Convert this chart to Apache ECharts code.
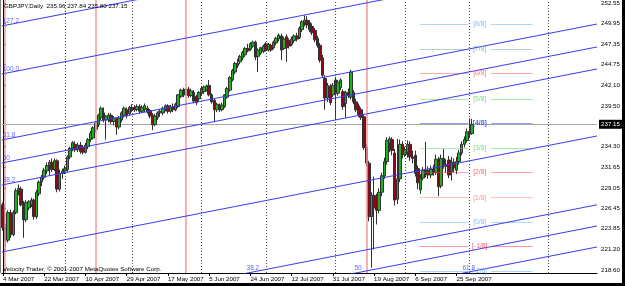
<!DOCTYPE html>
<html><head><meta charset="utf-8">
<script src="https://cdn.jsdelivr.net/npm/echarts@6/dist/echarts.min.js"></script>
<style>html,body{margin:0;padding:0;background:#fff;overflow:hidden}#c{width:625px;height:286px}</style>
</head><body><div id="c"></div>
<script>
const headerText = 'GBPJPY,Daily  235.96 237.84 235.80 237.15';
const copyrightText = 'Velocity Trader, \u00a9 2001-2007 MetaQuotes Software Corp.';
const slotCount = 231;
const dateTickIndex = [0,16,32,48,64,80,96,112,128,144,160,176];
const dateTickLabels = ['4 Mar 2007','22 Mar 2007','10 Apr 2007','29 Apr 2007','17 May 2007','5 Jun 2007','24 Jun 2007','12 Jul 2007','31 Jul 2007','19 Aug 2007','6 Sep 2007','25 Sep 2007'];
const priceTicks = [252.55,249.95,247.35,244.75,242.10,239.50,234.30,231.65,229.05,226.45,223.85,221.20,218.60];
const priceMin = 218.22, priceMax = 252.97;
const currentPrice = 237.15;
// daily bars: [open, high, low, close]
const ohlc = [
[226.9,227.2,223.6,224.0],[224.0,224.5,221.5,222.4],[222.4,226.2,222.1,225.9],[225.9,226.3,222.7,223.1],[223.1,226.2,222.9,225.9],
[225.9,229.0,225.7,228.7],[228.7,229.5,228.1,229.0],[228.9,229.2,226.7,226.9],[227.1,227.4,222.7,225.0],[225.0,227.5,224.7,227.2],
[226.5,227.5,226.2,227.3],[226.9,227.8,226.6,227.5],[227.5,227.7,225.0,225.4],[225.4,228.8,225.1,228.5],[228.3,230.0,228.0,229.8],
[229.8,230.7,229.3,230.4],[230.4,231.6,230.1,231.3],[231.2,232.3,230.8,231.9],[231.9,232.6,230.6,232.3],[232.3,232.8,231.1,231.4],
[231.4,232.8,231.2,232.5],[232.5,232.7,228.5,228.9],[228.9,231.4,228.6,230.9],[230.9,231.5,230.2,231.2],[231.2,231.9,230.8,231.5],
[231.4,233.2,231.1,233.0],[233.0,234.3,232.7,234.1],[234.1,235.0,233.7,234.8],[234.6,235.0,233.6,233.9],[233.9,234.8,233.6,234.5],
[234.5,234.9,233.4,233.7],[234.2,234.5,233.3,233.6],[233.6,234.8,233.4,234.5],[234.3,235.4,234.0,235.2],[235.2,236.3,234.9,236.0],
[235.4,236.9,235.2,236.7],[236.5,237.5,236.1,237.3],[237.1,238.5,236.8,238.3],[238.0,239.4,237.7,239.2],[238.6,239.3,237.4,237.7],
[237.7,238.3,235.2,238.2],[237.7,238.6,237.4,238.3],[238.3,238.6,237.2,237.5],[237.5,238.2,237.0,237.9],[237.7,238.0,235.8,236.8],
[236.8,238.2,236.5,237.9],[237.7,238.8,237.4,238.6],[238.3,239.4,238.0,239.2],[239.0,239.3,237.9,238.2],[238.5,239.5,238.2,239.3],
[239.3,239.7,238.7,239.0],[239.3,239.6,238.7,239.0],[239.0,239.7,238.8,239.4],[239.4,239.7,238.5,238.8],[238.8,239.6,238.6,239.3],
[239.0,239.8,238.7,239.5],[239.2,239.5,238.5,238.7],[238.9,239.1,237.9,238.2],[238.3,238.6,236.4,237.1],[237.1,238.5,236.9,238.2],
[238.0,238.8,237.7,238.6],[238.6,239.1,238.1,238.8],[238.6,239.4,238.3,239.2],[239.0,239.7,238.8,239.5],[239.5,239.7,238.5,238.8],
[238.8,239.6,238.6,239.3],[239.3,239.8,238.7,239.0],[239.0,239.9,238.8,239.7],[239.4,241.0,239.2,240.9],[240.7,241.7,240.5,241.5],
[241.5,241.8,240.6,240.9],[240.9,241.8,240.7,241.6],[241.6,241.9,240.5,240.8],[240.8,241.7,240.6,241.4],[241.2,241.5,239.8,240.1],
[240.7,240.9,239.6,239.9],[240.4,241.4,240.1,241.2],[241.1,241.9,240.8,241.7],[241.3,242.1,241.0,241.9],[241.5,242.2,241.3,242.0],
[242.1,242.8,240.7,240.9],[240.9,241.1,239.8,240.0],[240.2,240.5,237.4,239.0],[239.0,239.9,238.7,239.7],[239.6,239.8,238.7,239.0],
[239.0,239.9,238.8,239.6],[239.4,241.0,239.2,240.9],[240.6,241.9,240.4,241.7],[241.5,243.3,241.3,243.1],[242.8,244.2,242.6,244.0],
[243.8,245.1,243.5,244.9],[244.9,245.5,244.3,244.6],[245.1,246.0,244.8,245.8],[245.6,246.5,245.3,246.3],[246.0,247.0,245.7,246.8],
[246.8,247.4,246.3,246.5],[246.7,247.6,246.5,247.4],[247.1,247.8,246.9,247.6],[247.6,247.8,245.3,245.7],[245.8,246.8,243.8,246.6],
[246.2,247.0,246.0,246.9],[246.4,247.3,246.2,247.1],[247.4,247.6,246.4,246.6],[246.6,247.5,246.4,247.3],[247.2,247.4,246.4,246.6],
[246.9,247.8,246.7,247.6],[247.5,248.3,247.2,248.1],[248.0,248.7,247.7,248.5],[248.4,248.7,245.3,246.6],[246.8,248.3,246.6,248.0],
[248.3,248.6,245.1,246.9],[247.8,248.1,246.8,247.1],[247.3,248.3,247.1,248.0],[247.8,248.6,247.5,248.4],[248.4,248.8,247.7,248.0],
[248.2,249.6,248.0,249.4],[249.2,250.4,248.9,250.2],[250.1,251.0,249.6,250.4],[250.4,250.9,249.4,249.8],[250.1,250.4,248.9,249.2],
[249.6,250.0,248.5,248.8],[249.1,249.4,247.6,247.9],[248.1,248.4,246.9,247.2],[247.2,247.5,245.0,245.3],[245.6,246.0,243.1,243.4],
[243.0,243.4,239.0,240.5],[240.5,242.4,240.0,242.1],[242.0,242.3,239.6,239.9],[240.9,242.4,240.6,242.1],[242.8,243.2,237.7,241.1],
[241.1,242.8,240.8,242.5],[241.8,243.0,241.5,242.8],[241.3,241.6,239.0,239.4],[239.8,241.4,238.0,241.2],[241.2,241.7,240.5,240.8],
[240.6,244.1,240.3,243.8],[241.2,241.5,239.7,240.0],[240.0,240.4,238.7,239.0],[239.5,239.8,238.1,238.4],[239.0,239.3,237.7,238.0],
[238.1,238.4,233.9,234.2],[234.2,234.6,231.8,232.2],[232.2,232.5,224.8,225.4],[225.4,228.5,218.9,228.1],[228.1,230.5,221.2,226.5],
[227.9,228.3,224.4,226.2],[226.2,229.0,225.8,228.5],[228.5,231.0,228.0,230.6],[230.6,232.9,230.2,232.4],[232.4,235.5,232.0,235.1],
[234.8,235.6,233.6,235.3],[235.2,235.5,233.2,233.8],[233.5,234.0,226.8,227.5],[227.6,235.3,227.0,230.2],[230.2,235.2,229.8,234.6],
[234.6,235.0,232.8,233.3],[233.3,234.3,233.0,233.9],[233.6,235.1,232.9,234.6],[234.6,235.0,232.5,233.0],[233.0,233.8,232.2,232.8],
[233.2,233.8,230.5,230.9],[231.5,231.9,228.9,229.7],[228.8,230.8,228.3,230.3],[230.3,231.7,230.0,231.3],[231.3,234.9,230.4,230.8],
[231.3,231.8,230.2,230.7],[230.7,231.9,230.3,231.4],[231.4,232.0,230.6,231.0],[231.0,233.3,230.7,232.7],[232.6,233.0,228.0,229.2],
[229.3,233.3,229.0,232.8],[232.8,234.0,231.5,232.0],[232.0,232.7,231.0,231.8],[232.6,233.1,230.3,230.7],[231.1,233.0,230.0,232.3],
[232.3,232.8,231.0,231.6],[231.3,233.0,230.8,232.4],[232.4,233.9,232.0,233.5],[233.5,235.0,233.2,234.6],[234.6,235.6,234.2,235.2],
[235.1,236.6,234.8,236.2],[236.2,237.9,235.5,235.9],[235.96,237.84,235.80,237.15]
];
const monthSeparators = [24,50,77,102,129,156,181,211.6];
const cycleLines = [0.7,36,71,141];
// Fibonacci channel rays: price at left edge and at right edge
const fibLevels = ['127.2','100.0','61.8','50','38.2','0.0','38.2','50','61.8'];
const fibStart = [249.66,243.55,235.15,232.22,229.42,220.89,212.11,209.44,206.77];
const fibEnd   = [264.43,258.32,249.91,246.99,244.19,235.66,226.90,224.20,221.53];
const fibTopLabelLines = [0,1,2,3,4];
const fibBottomLabelLines = [6,7,8];
const fibBottomLabelAt = [94.5,136.4,178.3];
// Murrey math levels
const mmLabels = ['[8/8]','[7/8]','[6/8]','[5/8]','[4/8]','[3/8]','[2/8]','[1/8]','[0/8]','[-1/8]','[-2/8]'];
const mmPrices = [249.9,246.7,243.6,240.4,237.3,234.1,231.0,227.8,224.7,221.6,218.5];
const mmColors = ['#62acf2','#6aa59a','#f25a5a','#5cd85c','#2244ff','#5cd85c','#f04848','#f47c7c','#62acf2','#e8304e','#62acf2'];
const mmLeft = [162,180.3], mmRight = [189.6,205.4], mmLabelAt = 185;

const FONT = '"Liberation Sans",Arial,sans-serif';
const FS = 6.2;
const slots = Array.from({length: slotCount}, (_, i) => String(i));
const tickSet = new Set(dateTickIndex);
const isTick = (i) => tickSet.has(i);
const lineAt = (i, v) => fibStart[i] + (fibEnd[i] - fibStart[i]) * (v + 0.5) / slotCount;
const BLUE = '#3a3af2';

const series = [];
series.push({
  type: 'candlestick', xAxisIndex: 0, yAxisIndex: 0, barWidth: 3, z: 3,
  data: ohlc.map(r => [r[0], r[3], r[2], r[1]]),
  itemStyle: {color: '#1fb01f', color0: '#8a0a1c', borderColor: '#303030', borderColor0: '#303030', borderWidth: 1},
  markLine: {
    silent: true, symbol: 'none', animation: false, z: 1,
    lineStyle: {color: '#a8a8a8', type: 'solid', width: 1},
    label: {position: 'end', formatter: currentPrice.toFixed(2), color: '#fff', backgroundColor: '#000',
      padding: [2, 2, 1, 2], fontSize: FS, fontFamily: FONT, distance: 2},
    data: [{yAxis: currentPrice}]
  }
});
// vertical separators
series.push({
  type: 'line', xAxisIndex: 1, yAxisIndex: 0, data: [[-10, 230]], symbol: 'none', silent: true, z: 1,
  markLine: {
    silent: true, symbol: 'none', animation: false,
    label: {show: false},
    data: monthSeparators.map(v => ({xAxis: v, lineStyle: {color: '#444', type: [1, 2], width: 1}}))
      .concat(cycleLines.map(v => ({xAxis: v, lineStyle: {color: '#f49a9a', type: 'solid', width: 1.5}})))
  }
});
// Fibonacci channel lines
fibLevels.forEach((lv, i) => {
  series.push({
    type: 'line', xAxisIndex: 1, yAxisIndex: 0, symbol: 'none', silent: true, z: 5, clip: true,
    lineStyle: {color: BLUE, width: 1},
    data: [[-0.5, fibStart[i]], [slotCount - 0.5, fibEnd[i]]]
  });
});
// Fibonacci labels
series.push({
  type: 'scatter', xAxisIndex: 1, yAxisIndex: 0, symbolSize: 0, silent: true, z: 6, clip: false,
  label: {show: true, position: 'right', distance: 0, offset: [0, -5], color: BLUE, fontSize: 6.5, fontFamily: FONT,
    formatter: p => p.data.name},
  data: fibTopLabelLines.map(i => ({name: fibLevels[i], value: [-0.1, lineAt(i, -0.1)]}))
    .concat(fibBottomLabelLines.map((i, k) => ({name: fibLevels[i], value: [fibBottomLabelAt[k], lineAt(i, fibBottomLabelAt[k])]})))
});
// Murrey math lines
mmLabels.forEach((lb, i) => {
  series.push({
    type: 'line', xAxisIndex: 1, yAxisIndex: 0, data: [[-10, 230]], symbol: 'none', silent: true, z: 4,
    markLine: {
      silent: true, symbol: 'none', animation: false, label: {show: false},
      lineStyle: {color: mmColors[i], type: [1, 1], width: 1},
      data: [
        [{coord: [mmLeft[0], mmPrices[i]]}, {coord: [mmLeft[1], mmPrices[i]]}],
        [{coord: [mmRight[0], mmPrices[i]]}, {coord: [mmRight[1], mmPrices[i]]}]
      ]
    }
  });
});
series.push({
  type: 'scatter', xAxisIndex: 1, yAxisIndex: 0, symbolSize: 0, silent: true, z: 6,
  label: {show: true, position: 'inside', fontSize: 6.8, fontFamily: FONT, formatter: p => p.data.name},
  data: mmLabels.map((lb, i) => ({name: lb, value: [mmLabelAt, mmPrices[i]],
    label: {color: mmColors[i], fontWeight: i === 4 ? 'bold' : 'normal'}}))
});

const option = {
  animation: false,
  backgroundColor: '#fff',
  grid: {left: 1, right: 28, top: 0, bottom: 13},
  xAxis: [
    {type: 'category', data: slots, boundaryGap: true,
     axisLine: {show: true, lineStyle: {color: '#000', width: 1}},
     axisTick: {show: true, alignWithLabel: true, interval: isTick, length: 3, lineStyle: {color: '#000'}},
     axisLabel: {interval: isTick, formatter: (v, i) => dateTickLabels[dateTickIndex.indexOf(Number(v))] || '',
       align: 'left', margin: 3, fontSize: FS, color: '#000', fontFamily: FONT},
     splitLine: {show: false}},
    {type: 'value', min: -0.5, max: slotCount - 0.5, show: false}
  ],
  yAxis: [{type: 'value', position: 'right', min: priceMin, max: priceMax, scale: true,
    axisLine: {show: true, lineStyle: {color: '#000', width: 1}},
    axisTick: {show: true, customValues: priceTicks, length: 3, lineStyle: {color: '#000'}},
    axisLabel: {customValues: priceTicks, formatter: v => Number(v).toFixed(2), margin: 4, fontSize: FS,
      color: '#000', fontFamily: FONT},
    splitLine: {show: false}}],
  graphic: [
    {type: 'text', left: 4, top: 3, z: 100, style: {text: headerText, fill: '#000', font: FS + 'px ' + FONT}},
    {type: 'text', left: 3, top: 266, z: 100, style: {text: copyrightText, fill: '#000', font: FS + 'px ' + FONT}},
    {type: 'rect', shape: {x: 0, y: 0, width: 1, height: 273}, style: {fill: '#808080'}, z: 100},
    {type: 'rect', shape: {x: 622, y: 0, width: 3, height: 286}, style: {fill: '#000'}, z: 100},
    {type: 'rect', shape: {x: 0, y: 283, width: 625, height: 3}, style: {fill: '#000'}, z: 100}
  ],
  series: series
};
const chart = echarts.init(document.getElementById('c'), null, {renderer: 'canvas'});
chart.setOption(option);
</script></body></html>
